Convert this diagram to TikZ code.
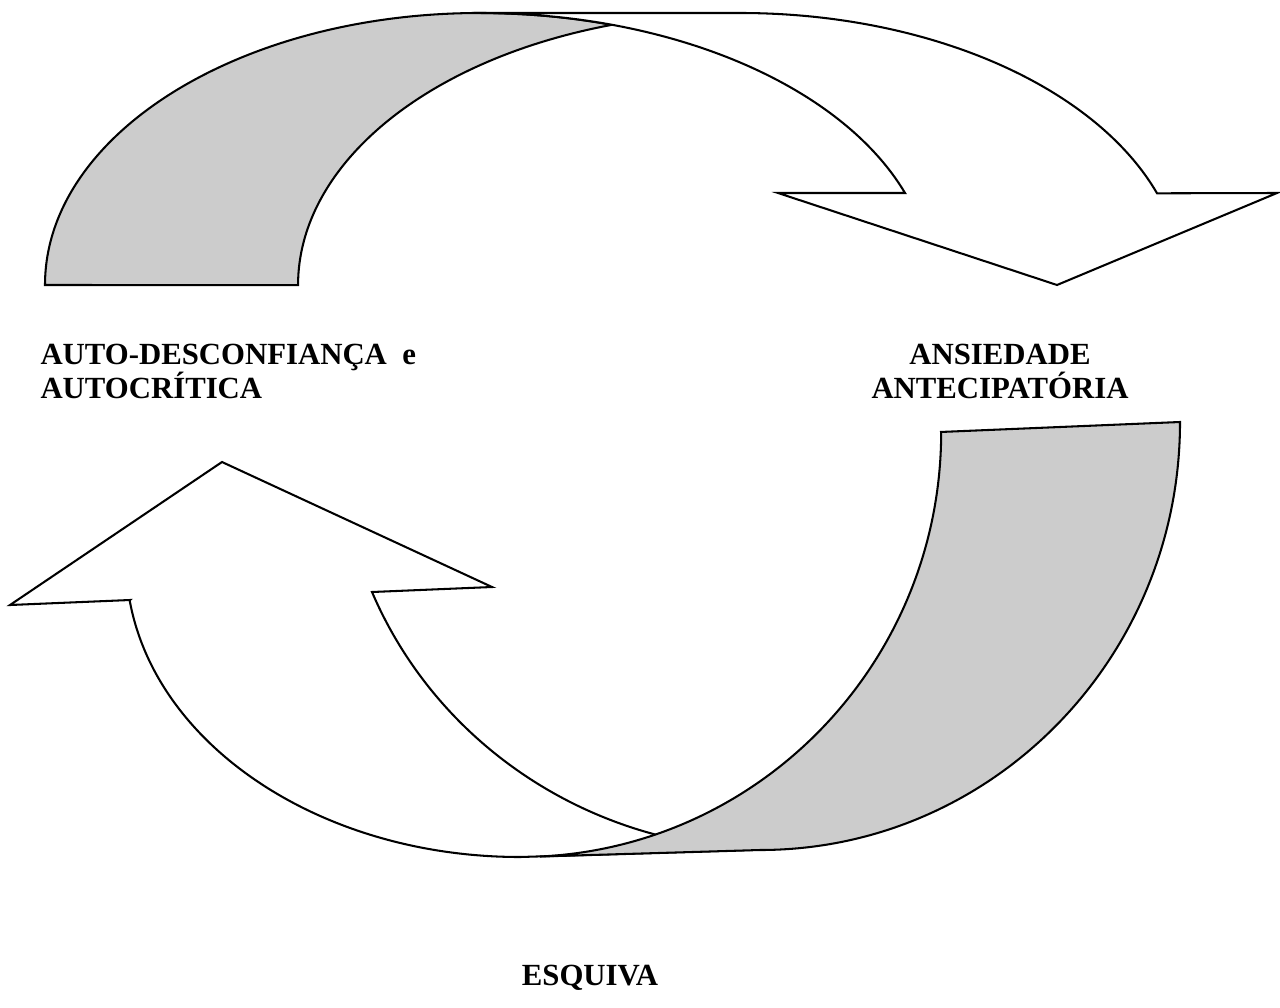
\documentclass[tikz,border=0pt]{standalone}
\usepackage{fontspec}
\setmainfont{Liberation Serif}
\usetikzlibrary{positioning}
\tikzset{
  backface/.style={draw=black, fill=black!20, thick},
  frontface/.style={draw=black, fill=white, thick},
  caption/.style={font=\bfseries\fontsize{12}{13}\selectfont, inner sep=0pt},
}
\begin{document}
\begin{tikzpicture}[x=0.39pt, y=-0.39pt]
  \useasboundingbox (0,0) rectangle (1280,1007);
  %% top arrow: grey back face, then the white front with its head
  \begin{scope}
    \draw[backface] (45,285)
      arc[start angle=180, end angle=270, x radius=435, y radius=272]
      arc[start angle=270, end angle=287, x radius=450, y radius=272]
      arc[start angle=253.1, end angle=180, x radius=442, y radius=272]
      -- cycle;
    \draw[frontface] (481,13) -- (740,13)
      arc[start angle=270, end angle=340.3, x radius=443, y radius=272]
      -- (1277,193) -- (1057,285) -- (778,193) -- (905,193)
      arc[start angle=340.2, end angle=270, x radius=450, y radius=272]
      -- cycle;
  \end{scope}
  %% bottom arrow: white front with its head, grey back face on top
  \begin{scope}
    \draw[frontface] (130,600) -- (10,605) -- (222,462) -- (492,587) -- (372,592)
      arc[start angle=157.4, end angle=90, x radius=430, y radius=418]
      -- (520,857)
      arc[start angle=90, end angle=172.2, x radius=394, y radius=297]
      -- cycle;
    \draw[backface] (940,432) -- (1180,422)
      arc[start angle=0, end angle=90, x radius=420, y radius=428]
      -- (540,856.5)
      arc[start angle=87.3, end angle=0, x radius=421, y radius=425]
      -- cycle;
  \end{scope}
  %% labels
  \node[caption, anchor=north west, align=left] (selfdoubt) at (40,344)
    {AUTO-DESCONFIANÇA\ \ e\\AUTOCRÍTICA};
  \node[caption, anchor=north, align=center] (anxiety) at (1000,344)
    {ANSIEDADE\\ANTECIPATÓRIA};
  \node[caption, anchor=base] (avoidance) at (590,985) {ESQUIVA};
\end{tikzpicture}
\end{document}
